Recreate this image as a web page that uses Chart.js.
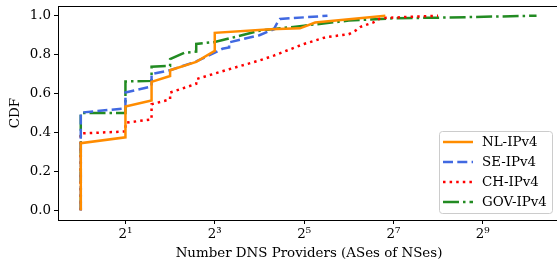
<!DOCTYPE html>
<html>
<head>
<meta charset="utf-8">
<script src="https://cdn.jsdelivr.net/npm/chart.js@4"></script>
<style>
html,body{margin:0;padding:0;background:#fff;overflow:hidden;}
#wrap{width:560px;height:265px;position:relative;}
</style>
</head>
<body>
<div id="wrap"><canvas id="c" width="560" height="265"></canvas></div>
<script>
// ---- data (x = number of DNS providers, y = CDF) ----
const seriesNames = ["NL-IPv4", "SE-IPv4", "CH-IPv4", "GOV-IPv4"];
const nlX = [1, 1, 2, 2, 3, 3, 4, 4, 6, 8, 8, 19, 30, 38, 113];
const nlY = [0, 0.345, 0.375, 0.533, 0.564, 0.66, 0.69, 0.72, 0.763, 0.82, 0.912, 0.93, 0.935, 0.965, 1.0];
const seX = [1, 1, 2, 2, 3, 3, 4, 6, 8, 9, 10, 10, 16, 20, 21, 22, 46];
const seY = [0, 0.502, 0.524, 0.605, 0.637, 0.70, 0.72, 0.765, 0.81, 0.83, 0.837, 0.863, 0.90, 0.93, 0.96, 0.983, 1.0];
const chX = [1, 1, 2, 2, 3, 3, 4, 4, 6, 6, 10, 16, 20, 32, 45, 64, 71, 77, 94, 105, 256];
const chY = [0, 0.395, 0.405, 0.45, 0.467, 0.545, 0.57, 0.605, 0.65, 0.674, 0.725, 0.77, 0.795, 0.855, 0.89, 0.905, 0.923, 0.943, 0.966, 0.988, 1.0];
const govX = [1, 1, 2, 2, 3, 3, 4, 4, 5, 6, 6, 8, 10, 16, 32, 64, 128, 256, 1180];
const govY = [0, 0.50, 0.50, 0.662, 0.665, 0.738, 0.742, 0.777, 0.81, 0.815, 0.855, 0.865, 0.883, 0.923, 0.949, 0.975, 0.987, 0.99, 1.0];
const xTickExps = [1, 3, 5, 7, 9];
const yTicks = [0, 0.2, 0.4, 0.6, 0.8, 1.0];

const colors = ["#ff8c00", "#4169e1", "#ff0000", "#228b22"];
const dashes = [[], [10, 4.3], [2.5, 4.1], [16, 4, 2.5, 4]];
const FONT = "'DejaVu Serif', serif";
const FS = 13.4;

function pts(xs, ys){ return xs.map((x,i)=>({x: Math.log2(x), y: ys[i]})); }
const allX = [nlX, seX, chX, govX], allY = [nlY, seY, chY, govY];

const sup = {"0":"⁰","1":"¹","2":"²","3":"³","4":"⁴","5":"⁵","6":"⁶","7":"⁷","8":"⁸","9":"⁹"};

const frame = {
  id: 'frame',
  afterDraw(chart){
    const {ctx, chartArea:a} = chart;
    ctx.save();
    ctx.strokeStyle = '#000'; ctx.lineWidth = 1;
    ctx.beginPath();
    ctx.moveTo(a.left, a.top+0.5); ctx.lineTo(a.right, a.top+0.5);
    ctx.moveTo(a.right-0.5, a.top); ctx.lineTo(a.right-0.5, a.bottom);
    ctx.stroke();
    // legend
    const bx = 439.5, by = 131.5, bw = 113, bh = 82, r = 3;
    ctx.globalAlpha = 0.8;
    ctx.fillStyle = '#fff';
    ctx.beginPath();
    ctx.roundRect(bx, by, bw, bh, r);
    ctx.fill();
    ctx.globalAlpha = 1;
    ctx.strokeStyle = '#cccccc';
    ctx.stroke();
    const rows = [142, 162, 182, 202];
    ctx.font = FS + "px " + FONT;
    ctx.textBaseline = 'middle';
    ctx.fillStyle = '#000';
    seriesNames.forEach((n,i)=>{
      ctx.save();
      ctx.strokeStyle = colors[i];
      ctx.lineWidth = 2.5;
      ctx.setLineDash(dashes[i]);
      ctx.beginPath();
      ctx.moveTo(443, rows[i]); ctx.lineTo(473, rows[i]);
      ctx.stroke();
      ctx.restore();
      ctx.fillText(n, 482, rows[i]+0.5);
    });
    ctx.restore();
  }
};

new Chart(document.getElementById('c'), {
  type: 'line',
  data: {
    datasets: seriesNames.map((n,i)=>({
      label: n,
      data: pts(allX[i], allY[i]),
      borderColor: colors[i],
      backgroundColor: colors[i],
      borderWidth: 2.5,
      borderDash: dashes[i],
      borderCapStyle: 'butt',
      pointRadius: 0,
      tension: 0,
      fill: false
    }))
  },
  options: {
    responsive: false,
    animation: false,
    events: [],
    layout: {padding: {top: 6, left: 0, right: 0, bottom: 0}},
    plugins: {legend: {display: false}, tooltip: {enabled: false}},
    scales: {
      x: {
        type: 'linear', min: -0.51, max: 10.73,
        afterBuildTicks(s){ s.ticks = xTickExps.map(v=>({value: v})); },
        afterFit(s){ s.height = 45; s.paddingLeft = 0; s.paddingRight = 0; },
        ticks: {
          color: '#000', font: {family: FONT, size: FS}, padding: 2, maxRotation: 0,
          callback: v => '2' + String(v).split('').map(c=>sup[c]).join('')
        },
        grid: {display: true, drawOnChartArea: false, drawTicks: true, tickLength: 4, color: '#000'},
        border: {display: true, color: '#000', width: 1},
        title: {display: true, text: 'Number DNS Providers (ASes of NSes)', color: '#000',
                font: {family: FONT, size: FS}, padding: {top: 2, bottom: 3}}
      },
      y: {
        type: 'linear', min: -0.05, max: 1.05,
        afterBuildTicks(s){ s.ticks = yTicks.map(v=>({value: v})); },
        afterFit(s){ s.width = 58; s.paddingTop = 0; s.paddingBottom = 0; },
        ticks: {
          color: '#000', font: {family: FONT, size: FS}, padding: 3,
          callback: v => v.toFixed(1)
        },
        grid: {display: true, drawOnChartArea: false, drawTicks: true, tickLength: 4, color: '#000'},
        border: {display: true, color: '#000', width: 1},
        title: {display: true, text: 'CDF', color: '#000',
                font: {family: FONT, size: FS}, padding: {top: 7, bottom: 4}}
      }
    }
  },
  plugins: [frame]
});
</script>
</body>
</html>
